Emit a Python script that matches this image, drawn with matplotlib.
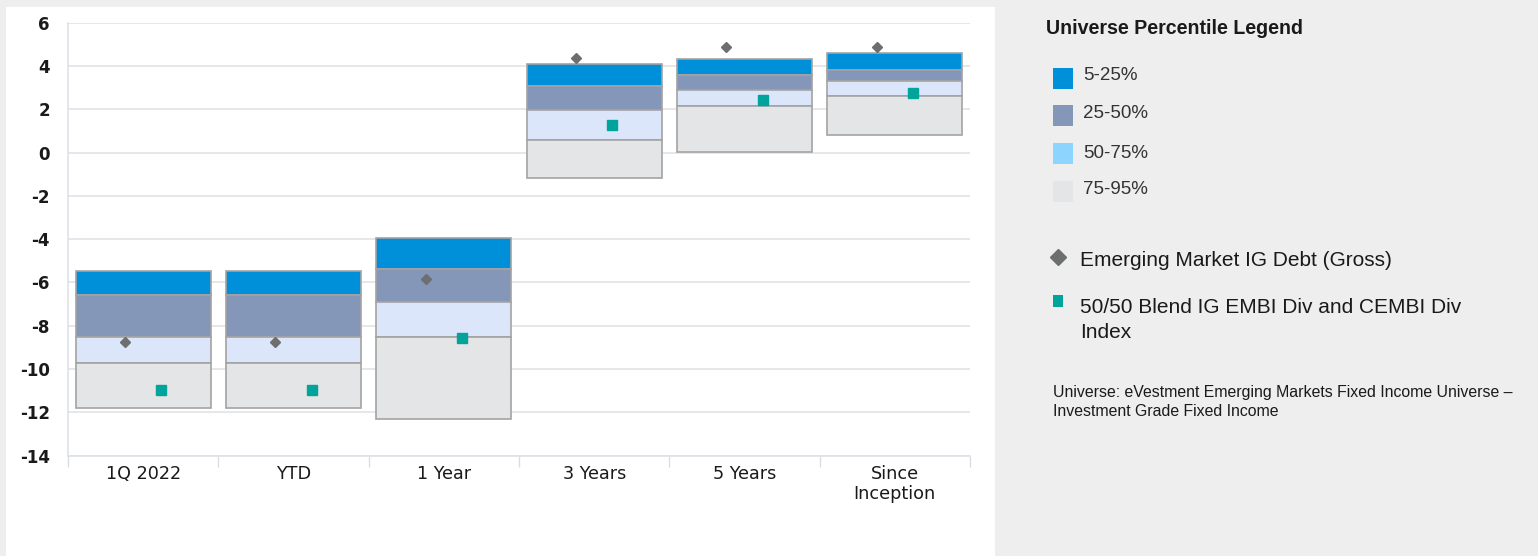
import matplotlib
matplotlib.use("Agg")
import matplotlib.pyplot as plt
from matplotlib.patches import Rectangle
from matplotlib.lines import Line2D
import numpy as np

# ---- data ----
categories = ["1Q 2022", "YTD", "1 Year", "3 Years", "5 Years", "Since\nInception"]
p5 = [-5.45, -5.45, -3.94, 4.11, 4.31, 4.62]
p25 = [-6.59, -6.59, -5.39, 3.09, 3.57, 3.82]
p50 = [-8.50, -8.50, -6.90, 1.97, 2.88, 3.31]
p75 = [-9.70, -9.70, -8.54, 0.59, 2.13, 2.62]
p95 = [-11.81, -11.81, -12.29, -1.17, 0.03, 0.79]
gross = [-8.73, -8.73, -5.85, 4.36, 4.87, 4.87]
bench = [-10.96, -10.96, -8.57, 1.28, 2.43, 2.74]
band_labels = ["5-25%", "25-50%", "50-75%", "75-95%"]
gross_label = "Emerging Market IG Debt (Gross)"
bench_label = "50/50 Blend IG EMBI Div and CEMBI Div\nIndex"
note = "Universe: eVestment Emerging Markets Fixed Income Universe \u2013\nInvestment Grade Fixed Income"
yticks = list(range(-14, 7, 2))

# ---- style ----
W, H = 1538, 556
DPI = 100
band_colors = ["#0090D9", "#8497B8", "#DCE6FA", "#E4E5E6"]
legend_colors = ["#0090D9", "#8497B8", "#8DD4FF", "#E4E5E6"]
edge = "#A3A3A3"
bg = "#EDEEED"
c_gross = "#6D6E70"
c_bench = "#00A49A"

fig = plt.figure(figsize=(W / DPI, H / DPI), dpi=DPI, facecolor=bg)

def fx(px):
    return px / W

def fy(py):
    return 1 - py / H

# white chart panel
fig.add_artist(Rectangle((fx(6), fy(556)), fx(995) - fx(6), fy(7) - fy(556),
                         transform=fig.transFigure, facecolor="white",
                         edgecolor="none", zorder=0))

ax = fig.add_axes([fx(68), fy(455.7), fx(970) - fx(68), fy(22.7) - fy(455.7)])
ax.set_facecolor("none")
x = np.arange(len(categories))
bw = 0.9

tops = [p5, p25, p50, p75]
bots = [p25, p50, p75, p95]
for i in range(4):
    t = np.array(tops[i])
    b = np.array(bots[i])
    ax.bar(x, t - b, bottom=b, width=bw, color=band_colors[i], edgecolor=edge,
           linewidth=1.2, zorder=2)

ax.plot(x - 0.12, gross, linestyle="none", marker="D", ms=5.5, color=c_gross, zorder=4)
ax.plot(x + 0.12, bench, linestyle="none", marker="s", ms=7, color=c_bench, zorder=4)

ax.set_xlim(-0.5, len(categories) - 0.5)
ax.set_ylim(-14, 6)
ax.set_yticks(yticks)
ax.set_yticklabels([str(v) for v in yticks], fontsize=12, fontweight="bold",
                   color="#1a1a1a", family="DejaVu Sans")
ax.set_xticks(x)
ax.set_xticklabels(categories, fontsize=12.7, color="#1a1a1a", family="DejaVu Sans",
                   linespacing=1.1)
ax.set_xticks(np.arange(-0.5, len(categories), 1), minor=True)
ax.tick_params(axis="x", which="major", length=0, pad=7)
ax.tick_params(axis="x", which="minor", length=8, color="#D9DDE3", width=1)
ax.tick_params(axis="y", length=0, pad=13)
ax.grid(axis="y", color="#E3E3E3", linewidth=1.2, zorder=0)
ax.set_axisbelow(True)
for s in ["top", "right"]:
    ax.spines[s].set_visible(False)
ax.spines["left"].set_color("#DDE1E6")
ax.spines["bottom"].set_color("#DDE1E6")
ax.spines["left"].set_linewidth(1.2)
ax.spines["bottom"].set_linewidth(1.2)

# ---- right legend ----
lf = "Liberation Sans"
fig.text(fx(1046), fy(29), "Universe Percentile Legend", fontsize=14.1, fontweight="bold",
         family=lf, color="#1a1a1a", va="center", ha="left")
patch_rows = [78, 115, 153, 191]
text_rows = [75, 113, 153, 189]
for i in range(4):
    fig.add_artist(Rectangle((fx(1053), fy(patch_rows[i] + 10.5)), fx(20), 21 / H,
                             transform=fig.transFigure, facecolor=legend_colors[i],
                             edgecolor="none"))
    fig.text(fx(1083), fy(text_rows[i]), band_labels[i], fontsize=13.5, family=lf,
             color="#333333", va="center", ha="left")

fig.add_artist(Line2D([fx(1058.3)], [fy(256.7)], marker="D", ms=8, color=c_gross,
                      linestyle="none", transform=fig.transFigure))
fig.text(fx(1080), fy(260), gross_label, fontsize=15, family=lf, color="#1a1a1a",
         va="center", ha="left")
fig.add_artist(Rectangle((fx(1053), fy(307.3)), fx(10), 12 / H,
                         transform=fig.transFigure, facecolor=c_bench, edgecolor="none"))
for line, yy in zip(bench_label.split("\n"), [307.5, 333]):
    fig.text(fx(1080), fy(yy), line, fontsize=15, family=lf, color="#1a1a1a",
             va="center", ha="left")
for line, yy in zip(note.split("\n"), [392.5, 412]):
    fig.text(fx(1053), fy(yy), line, fontsize=11.45, family=lf, color="#1a1a1a",
             va="center", ha="left")

fig.savefig("out.png", dpi=DPI, facecolor=bg)
